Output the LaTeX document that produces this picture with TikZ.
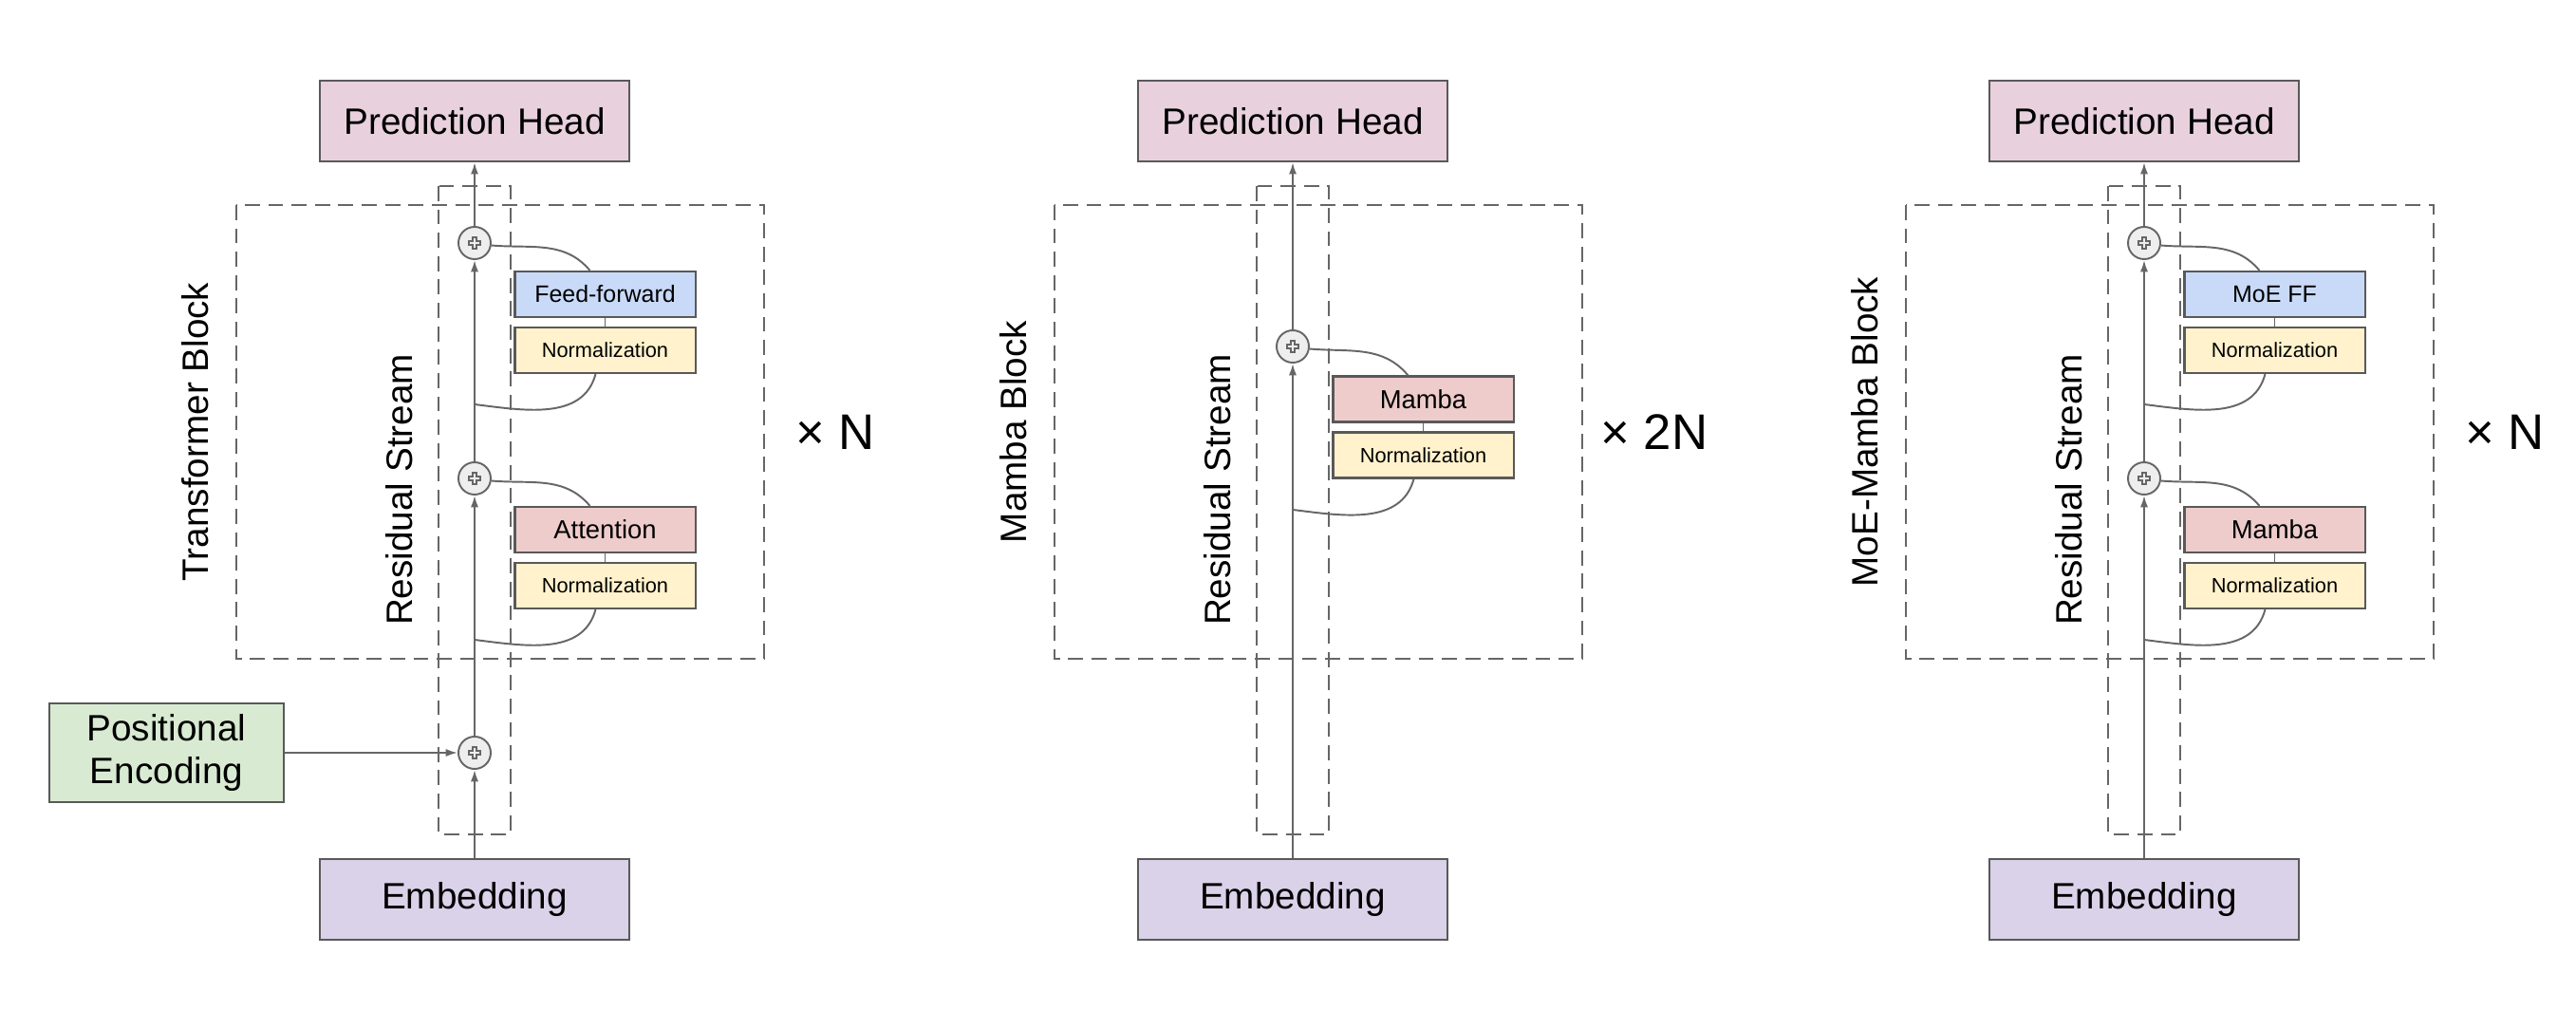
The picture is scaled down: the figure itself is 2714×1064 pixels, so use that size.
\documentclass[tikz,border=0pt]{standalone}
\usepackage{fontspec}
\setmainfont{Liberation Sans}
\usetikzlibrary{positioning, arrows.meta}
\definecolor{linegray}{HTML}{666666}
\definecolor{boxgray}{HTML}{595959}
\definecolor{headfill}{HTML}{E8D1DC}
\definecolor{embfill}{HTML}{D9D2E9}
\definecolor{posfill}{HTML}{D9EAD3}
\definecolor{fffill}{HTML}{C9DAF8}
\definecolor{normfill}{HTML}{FFF2CC}
\definecolor{mixfill}{HTML}{EECCCC}
\definecolor{addfill}{HTML}{EEEEEE}
\tikzset{
  % Box styles
  unit/.style={rectangle, draw=boxgray, line width=0.6pt, inner sep=0pt, align=center},
  headbox/.style={unit, fill=headfill, minimum width=3.26cm, minimum height=0.85cm, font=\fontsize{11}{13}\selectfont},
  embbox/.style={unit, fill=embfill, minimum width=3.26cm, minimum height=0.85cm, font=\fontsize{11}{13}\selectfont},
  posbox/.style={unit, fill=posfill, minimum width=2.47cm, minimum height=1.04cm, font=\fontsize{11}{13}\selectfont},
  ffbox/.style={unit, fill=fffill, minimum width=1.9cm, minimum height=0.48cm, font=\fontsize{7.1}{8}\selectfont},
  mixbox/.style={unit, fill=mixfill, minimum width=1.9cm, minimum height=0.48cm, font=\fontsize{7.8}{9}\selectfont},
  normbox/.style={unit, fill=normfill, minimum width=1.9cm, minimum height=0.48cm, font=\fontsize{6.2}{7}\selectfont},
  % Residual add: circle with an outlined cross
  addnode/.style={circle, draw=linegray, fill=addfill, line width=0.55pt, minimum size=0.34cm, inner sep=0pt,
    path picture={
      \draw[linegray, line width=0.45pt, shift={(path picture bounding box.center)}]
        (0.022cm,0.062cm) -- (0.022cm,0.022cm) -- (0.062cm,0.022cm) -- (0.062cm,-0.022cm)
        -- (0.022cm,-0.022cm) -- (0.022cm,-0.062cm) -- (-0.022cm,-0.062cm) -- (-0.022cm,-0.022cm)
        -- (-0.062cm,-0.022cm) -- (-0.062cm,0.022cm) -- (-0.022cm,0.022cm) -- (-0.022cm,0.062cm) -- cycle;
    }},
  % Frames and wires
  frame/.style={draw=linegray, line width=0.6pt, dash pattern=on 4.5pt off 2.5pt},
  flow/.style={draw=linegray, line width=0.55pt, -{Latex[length=3.5pt, width=2.3pt]}},
  wire/.style={draw=linegray, line width=0.55pt},
  % Labels
  sidelabel/.style={rotate=90, font=\fontsize{11}{13}\selectfont},
  replabel/.style={font=\fontsize{15}{18}\selectfont},
}

\begin{document}
\begin{tikzpicture}[x=0.01cm, y=-0.01cm]
  \useasboundingbox (0,0) rectangle (2714,1064);

  % --- TRANSFORMER ---
  \begin{scope}[shift={(0,0)}]
    \draw[frame] (249,216) rectangle (805,694);
    \draw[frame] (462,196) rectangle (538,879);
    \node[sidelabel] (tf-name) at (206,455) {Transformer Block};
    \node[sidelabel] (tf-res) at (421,516) {Residual Stream};
    \node[replabel] (tf-rep) at (880,455) {× N};

    \node[headbox] (tf-head) at (500,127.5) {Prediction Head};
    \node[embbox] (tf-emb) at (500,947.5) {Embedding};
    \node[posbox] (tf-pos) at (175.5,793) {Positional\\Encoding};
    \node[addnode] (tf-add0) at (500,793) {};
    \node[addnode] (tf-add1) at (500,504) {};
    \node[addnode] (tf-add2) at (500,256) {};
    \node[mixbox] (tf-attn) at (637.5,558) {Attention};
    \node[normbox] (tf-norm1) at (637.5,617) {Normalization};
    \node[ffbox] (tf-ff) at (637.5,310) {Feed-forward};
    \node[normbox] (tf-norm2) at (637.5,369) {Normalization};
    \coordinate (tf-tap1) at (500,674);
    \coordinate (tf-tap2) at (500,426);

    \draw[flow] (tf-emb) -- (tf-add0);
    \draw[flow] (tf-pos) -- (tf-add0);
    \draw[flow] (tf-add0) -- (tf-add1);
    \draw[flow] (tf-add1) -- (tf-add2);
    \draw[flow] (tf-add2) -- (tf-head);

    \draw[wire] (tf-tap1) to[out=-7, in=-105] ([xshift=-0.1cm]tf-norm1.south);
    \draw[wire] (tf-norm1) -- (tf-attn);
    \draw[wire] (tf-add1.-8) to[out=-5, in=130] ([xshift=-0.16cm]tf-attn.north);
    \draw[wire] (tf-tap2) to[out=-7, in=-105] ([xshift=-0.1cm]tf-norm2.south);
    \draw[wire] (tf-norm2) -- (tf-ff);
    \draw[wire] (tf-add2.-8) to[out=-5, in=130] ([xshift=-0.16cm]tf-ff.north);
  \end{scope}

  % --- MAMBA ---
  \begin{scope}[shift={(862,0)}]
    \draw[frame] (249,216) rectangle (805,694);
    \draw[frame] (462,196) rectangle (538,879);
    \node[sidelabel] (mb-name) at (206,455) {Mamba Block};
    \node[sidelabel] (mb-res) at (421,516) {Residual Stream};
    \node[replabel] (mb-rep) at (881,455) {× 2N};

    \node[headbox] (mb-head) at (500,127.5) {Prediction Head};
    \node[embbox] (mb-emb) at (500,947.5) {Embedding};
    \node[addnode] (mb-add) at (500,365) {};
    \node[mixbox] (mb-mix) at (637.5,420.5) {Mamba};
    \node[normbox] (mb-norm) at (637.5,479.5) {Normalization};
    \coordinate (mb-tap) at (500,537);

    \draw[flow] (mb-emb) -- (mb-add);
    \draw[flow] (mb-add) -- (mb-head);

    \draw[wire] (mb-tap) to[out=-7, in=-105] ([xshift=-0.1cm]mb-norm.south);
    \draw[wire] (mb-norm) -- (mb-mix);
    \draw[wire] (mb-add.-8) to[out=-5, in=130] ([xshift=-0.16cm]mb-mix.north);
  \end{scope}

  % --- MOE-MAMBA ---
  \begin{scope}[shift={(1759,0)}]
    \draw[frame] (249,216) rectangle (805,694);
    \draw[frame] (462,196) rectangle (538,879);
    \node[sidelabel] (moe-name) at (206,455) {MoE-Mamba Block};
    \node[sidelabel] (moe-res) at (421,516) {Residual Stream};
    \node[replabel] (moe-rep) at (880,455) {× N};

    \node[headbox] (moe-head) at (500,127.5) {Prediction Head};
    \node[embbox] (moe-emb) at (500,947.5) {Embedding};
    \node[addnode] (moe-add1) at (500,504) {};
    \node[addnode] (moe-add2) at (500,256) {};
    \node[mixbox] (moe-mix) at (637.5,558) {Mamba};
    \node[normbox] (moe-norm1) at (637.5,617) {Normalization};
    \node[ffbox] (moe-ff) at (637.5,310) {MoE FF};
    \node[normbox] (moe-norm2) at (637.5,369) {Normalization};
    \coordinate (moe-tap1) at (500,674);
    \coordinate (moe-tap2) at (500,426);

    \draw[flow] (moe-emb) -- (moe-add1);
    \draw[flow] (moe-add1) -- (moe-add2);
    \draw[flow] (moe-add2) -- (moe-head);

    \draw[wire] (moe-tap1) to[out=-7, in=-105] ([xshift=-0.1cm]moe-norm1.south);
    \draw[wire] (moe-norm1) -- (moe-mix);
    \draw[wire] (moe-add1.-8) to[out=-5, in=130] ([xshift=-0.16cm]moe-mix.north);
    \draw[wire] (moe-tap2) to[out=-7, in=-105] ([xshift=-0.1cm]moe-norm2.south);
    \draw[wire] (moe-norm2) -- (moe-ff);
    \draw[wire] (moe-add2.-8) to[out=-5, in=130] ([xshift=-0.16cm]moe-ff.north);
  \end{scope}

\end{tikzpicture}
\end{document}
